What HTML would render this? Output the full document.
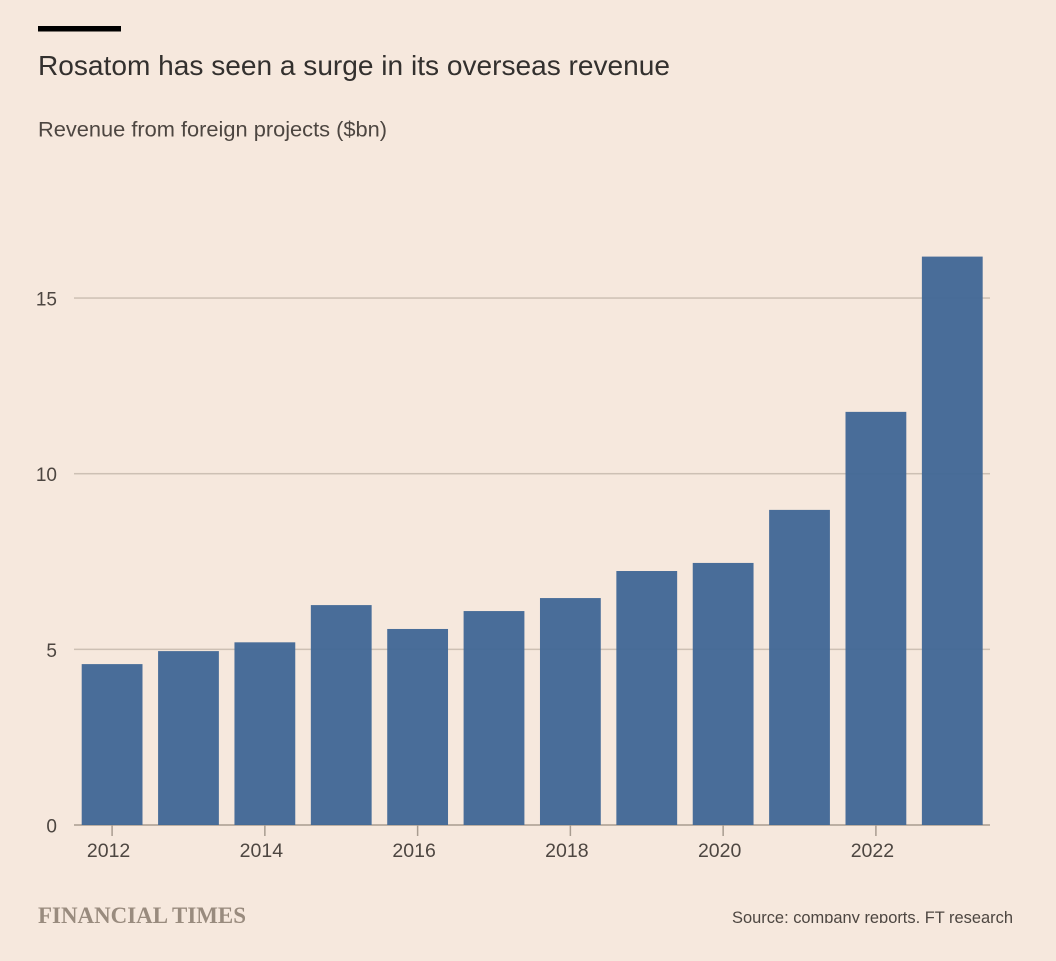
<!DOCTYPE html>
<html lang="en">
<head>
<meta charset="utf-8">
<title>Rosatom has seen a surge in its overseas revenue</title>
<style>
html,body{margin:0;padding:0;background:#f6e8dd;}
svg{display:block;font-family:"Liberation Sans",sans-serif;}
</style>
</head>
<body>
<svg id="chart" width="1056" height="961" viewBox="0 0 1056 961" xmlns="http://www.w3.org/2000/svg">
  <defs>
    <clipPath id="source-clip"><rect x="700" y="900" width="340" height="23"></rect></clipPath>
  </defs>
  <rect x="0" y="0" width="1056" height="961" fill="#f6e8dd"></rect>
  <rect x="38" y="26" width="83" height="5.5" fill="#000"></rect>
  <text x="38" y="75" font-size="28" fill="#33302e" textLength="632" lengthAdjust="spacingAndGlyphs">Rosatom has seen a surge in its overseas revenue</text>
  <text x="38" y="136.5" font-size="21" fill="#4d4641" textLength="349" lengthAdjust="spacingAndGlyphs">Revenue from foreign projects ($bn)</text>
  <g id="grid"></g>
  <g id="y-labels"></g>
  <g id="x-axis"></g>
  <g id="bars"></g>
  <text x="38" y="923" font-family="'Liberation Serif',serif" font-size="23.5" font-weight="bold" fill="#998b7e" textLength="208" lengthAdjust="spacingAndGlyphs">FINANCIAL TIMES</text>
  <g clip-path="url(#source-clip)">
    <text x="732" y="923" font-size="17" fill="#4d4641" textLength="281" lengthAdjust="spacingAndGlyphs">Source: company reports, FT research</text>
  </g>
</svg>
<script>
const categories = [2012, 2013, 2014, 2015, 2016, 2017, 2018, 2019, 2020, 2021, 2022, 2023];
const revenue = [4.58, 4.95, 5.2, 6.26, 5.58, 6.09, 6.46, 7.23, 7.46, 8.97, 11.76, 16.18];
const yTicks = [0, 5, 10, 15];
const xTicks = [2012, 2014, 2016, 2018, 2020, 2022];

const NS = 'http://www.w3.org/2000/svg';
const plotLeft = 74, plotRight = 990, baseY = 825, pxPerUnit = 35.13;
const firstCenter = 112.1, step = 76.38, barWidth = 60.8;
const yScale = v => baseY - v * pxPerUnit;
const xScale = c => firstCenter + categories.indexOf(c) * step;

function make(tag, attrs, text) {
  const el = document.createElementNS(NS, tag);
  for (const k in attrs) el.setAttribute(k, attrs[k]);
  if (text !== undefined) el.textContent = text;
  return el;
}

const grid = document.getElementById('grid');
const yLabels = document.getElementById('y-labels');
yTicks.forEach(t => {
  if (t !== 0) {
    const line = make('rect', { x: plotLeft, y: yScale(t) - 0.75, width: plotRight - plotLeft, height: 1.5, fill: '#cdc0b4' });
    
    
    grid.appendChild(line);
  }
  const label = make('text', { x: 57, y: yScale(t) + 7.5, 'font-size': 19, fill: '#4d4641', 'text-anchor': 'end' }, String(t));
  
  
  yLabels.appendChild(label);
});

const xAxis = document.getElementById('x-axis');
const axisLine = make('rect', { x: plotLeft, y: baseY - 0.75, width: plotRight - plotLeft, height: 1.5, fill: '#a89c90' });


xAxis.appendChild(axisLine);
xTicks.forEach(c => {
  const x = xScale(c);
  const tick = make('rect', { x: x - 0.75, y: baseY, width: 1.5, height: 11, fill: '#a89c90' });
  
  
  xAxis.appendChild(tick);
  const label = make('text', { x: x - 3.5, y: 857, 'font-size': 19.5, fill: '#4d4641', 'text-anchor': 'middle' }, String(c));
  
  
  xAxis.appendChild(label);
});

const bars = document.getElementById('bars');
categories.forEach((c, i) => {
  const top = yScale(revenue[i]);
  const bar = make('rect', { x: xScale(c) - barWidth / 2, y: top, width: barWidth, height: baseY - top, fill: '#426896', 'fill-opacity': 0.96 });
  
  
  bars.appendChild(bar);
});
</script>
</body>
</html>
